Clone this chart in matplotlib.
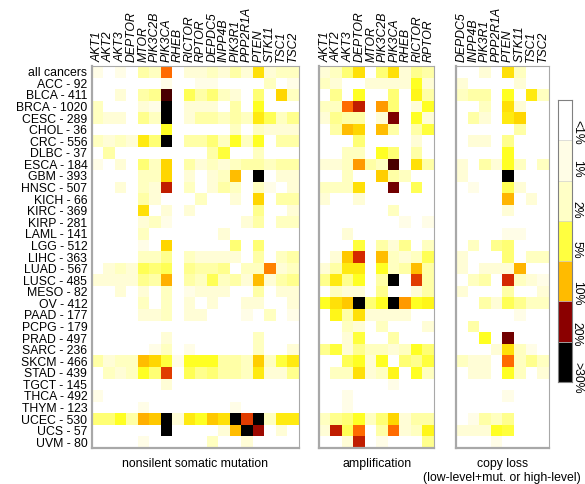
import numpy as np
import matplotlib
matplotlib.use("Agg")
import matplotlib.pyplot as plt
from matplotlib.colors import LinearSegmentedColormap

plt.rcParams['font.family'] = ['Liberation Sans', 'DejaVu Sans']

cancers = ["all cancers", "ACC - 92", "BLCA - 411", "BRCA - 1020", "CESC - 289",
           "CHOL - 36", "CRC - 556", "DLBC - 37", "ESCA - 184", "GBM - 393",
           "HNSC - 507", "KICH - 66", "KIRC - 369", "KIRP - 281", "LAML - 141",
           "LGG - 512", "LIHC - 363", "LUAD - 567", "LUSC - 485", "MESO - 82",
           "OV - 412", "PAAD - 177", "PCPG - 179", "PRAD - 497", "SARC - 236",
           "SKCM - 466", "STAD - 439", "TGCT - 145", "THCA - 492", "THYM - 123",
           "UCEC - 530", "UCS - 57", "UVM - 80"]

mut_genes = ["AKT1", "AKT2", "AKT3", "DEPTOR", "MTOR", "PIK3C2B", "PIK3CA", "RHEB",
             "RICTOR", "RPTOR", "DEPDC5", "INPP4B", "PIK3R1", "PPP2R1A", "PTEN",
             "STK11", "TSC1", "TSC2"]
amp_genes = ["AKT1", "AKT2", "AKT3", "DEPTOR", "MTOR", "PIK3C2B", "PIK3CA", "RHEB",
             "RICTOR", "RPTOR"]
loss_genes = ["DEPDC5", "INPP4B", "PIK3R1", "PPP2R1A", "PTEN", "STK11", "TSC1", "TSC2"]

# altered samples, percent of cohort
mutation_pct = [
    [1, 0, 1, 0, 2.5, 2, 13, 0, 1.5, 1.5, 2, 1.5, 2.5, 1.5, 6.5, 1.5, 2, 2],
    [0, 0, 0, 0, 0, 0, 1, 0, 0, 1, 1, 0, 0, 0, 0, 2, 0, 1],
    [0, 0, 1.5, 0, 2.5, 3, 25, 0, 4, 2.5, 3.5, 2, 1.5, 0, 3.5, 0, 7, 2],
    [2, 0, 0, 0, 1.5, 1, 35, 0, 1.5, 1.5, 1.5, 0, 2.5, 0, 5, 0, 0, 0],
    [2, 1.5, 1.5, 0, 3, 2, 32, 0, 1.5, 2.5, 2.5, 2, 2.5, 2, 6, 4, 2, 3],
    [0, 0, 0, 0, 0, 0, 5, 0, 0, 0, 0, 0, 2, 0, 2, 1.5, 1.5, 1.5],
    [2, 1.5, 2, 1.5, 6, 3.5, 32, 0, 2.5, 2.5, 3.5, 2, 5, 2, 5, 0, 2.5, 2.5],
    [0, 2.5, 0, 0, 0, 0, 0, 0, 0, 0, 2.5, 4.5, 0, 0, 2, 0, 0, 0],
    [1, 0, 1.5, 0, 3.5, 2, 7, 0, 2.5, 1.5, 2, 1.5, 2, 2.5, 2.5, 2, 2.5, 2.5],
    [0, 0, 0, 0, 2, 2, 7, 0, 1.5, 0, 1.5, 2, 9, 0, 35, 0, 1.5, 1.5],
    [0, 0, 1.5, 0, 2, 1.5, 17, 0, 2, 0, 1.5, 2.5, 2, 0, 2, 1, 0, 1.5],
    [0, 0, 0, 0, 2.5, 1.5, 0, 0, 0, 2, 0, 0, 1.5, 0, 7, 0, 2.5, 2.5],
    [0, 0, 0, 0, 6.5, 0, 1.5, 0, 1.5, 0, 0, 0, 0, 0, 3, 0, 0, 1.5],
    [0, 0, 0, 0, 1.5, 2, 1, 0, 0, 0, 0, 0, 0, 1.5, 2.5, 0, 2, 2],
    [0, 0, 0, 0, 2, 0, 0, 0, 0, 0, 0, 1.5, 0, 0, 0, 0, 0, 0],
    [0, 0, 0, 0, 1, 0, 7, 0, 0, 0, 0, 0, 3.5, 0, 3.5, 0, 0, 0],
    [0, 0, 0, 0, 2, 2, 3, 0, 2, 1.5, 1.5, 1.5, 1.5, 0, 2.5, 0, 2, 2.5],
    [0, 1.5, 2, 1.5, 4, 3.5, 4, 0, 3, 2.5, 2.5, 3, 0, 2, 2, 12, 1.5, 2],
    [1.5, 1.5, 1.5, 1.5, 3, 2.5, 10, 0, 2.5, 2, 4, 2, 2.5, 1.5, 9, 1.5, 2.5, 3],
    [0, 0, 1.5, 0, 1.5, 0, 2, 0, 1, 1.5, 1.5, 1.5, 0, 0, 2.5, 0, 1.5, 1.5],
    [0, 0, 0, 0, 2, 0, 2, 0, 1.5, 0, 1.5, 0, 0, 1.5, 1.5, 0, 0, 1.5],
    [0, 0, 0, 0, 1.5, 1.5, 2, 0, 1.5, 1.5, 0, 0, 0, 1, 0, 2, 0, 1],
    [0, 0, 0, 0, 0, 0, 0, 0, 0, 0, 0, 0, 0, 0, 0, 0, 0, 0],
    [0, 0, 0, 0, 0, 0, 1.5, 0, 0, 0, 0, 0, 0, 0, 2, 0, 0, 0],
    [0, 0, 0, 0, 0, 1, 2, 0, 1, 0, 0, 0, 0, 0, 2, 0, 0, 1.5],
    [2.5, 1.5, 2, 2, 9, 7, 4.5, 1, 5, 5, 5, 2.5, 2.5, 2, 7.5, 2, 4.5, 6],
    [0, 2, 1.5, 2, 5, 3.5, 15, 0, 4, 3, 3.5, 2.5, 2.5, 2, 6, 1.5, 1.5, 3],
    [0, 0, 0, 0, 0, 0, 1.5, 0, 0, 0, 0, 0, 0, 0, 0, 0, 0, 0],
    [1, 0, 0, 0, 0, 0, 0, 0, 0, 0, 0, 0, 0, 0, 0, 0, 0, 0],
    [0, 0, 0, 0, 1, 0, 0, 0, 0, 0, 0, 0, 1, 0, 0, 0, 0, 0],
    [3.5, 3.5, 5, 2.5, 10, 8, 35, 1.5, 6, 5, 8, 6.5, 32, 15, 32, 2, 6, 6],
    [0, 0, 0, 0, 0, 0, 32, 0, 0, 0, 0, 1.5, 9, 32, 19, 0, 1.5, 0],
    [0, 0, 0, 0, 1, 0, 0, 0, 0, 0, 2, 0, 0, 1.5, 0, 0, 0, 0],
]

amplification_pct = [
    [1.5, 2, 3.5, 6.5, 0, 3.5, 6.5, 1.5, 3, 2.5],
    [2, 1.5, 0, 0, 1.5, 1.5, 1.5, 1.5, 5, 1.5],
    [0, 3, 0, 5, 0, 0, 3.5, 0, 5.5, 2.5],
    [2, 2, 13, 17, 0, 11, 3.5, 0, 1.5, 5],
    [1.5, 3, 2.5, 2.5, 0, 1.5, 21, 0, 5, 1.5],
    [0, 2.5, 9, 7, 0, 9, 2.5, 0, 2.5, 4.5],
    [0, 0, 0, 3.5, 0, 0, 0, 0, 1.5, 0],
    [0, 0, 2, 2, 0, 5, 3.5, 0, 2.5, 0],
    [1.5, 1.5, 2, 11, 2.5, 2, 25, 0, 6.5, 2.5],
    [0, 0, 2, 0, 0, 7.5, 2.5, 2, 0, 0],
    [2, 2, 2, 6.5, 0, 0, 22, 0, 4, 0],
    [1.5, 0, 0, 1.5, 0, 0, 0, 0, 0, 0],
    [0, 0, 0, 0, 0, 0, 2, 0, 0, 0],
    [0, 0, 0, 0, 0, 0, 0, 1, 0, 1],
    [0, 0, 1.5, 0, 0, 0, 0, 0, 0, 0],
    [0, 0, 0, 4.5, 0, 2.5, 1.5, 3, 0, 2],
    [0, 1.5, 8, 16, 0, 9, 2, 1.5, 2, 4],
    [1.5, 2.5, 6, 6, 0, 5, 2, 2.5, 9, 2.5],
    [3, 6, 3, 5, 0, 2.5, 35, 0, 15, 2.5],
    [0, 2, 1.5, 1.5, 0, 3, 0, 0, 1.5, 2.5],
    [5, 6.5, 8, 35, 3.5, 5, 35, 11, 5, 5.5],
    [0, 5.5, 2.5, 6.5, 1.5, 1.5, 1.5, 1.5, 0, 0],
    [0, 0, 2, 1.5, 0, 2, 0, 0, 0, 1.5],
    [0, 0, 1.5, 4.5, 0, 0, 2.5, 0, 0, 0],
    [3, 4.5, 1.5, 3, 2, 2, 1.5, 2, 5, 3.5],
    [0, 0, 4, 5, 1.5, 5, 0, 3.5, 3, 4.5],
    [0, 2, 2, 6.5, 1.5, 2, 5.5, 0, 5, 2],
    [0, 0, 0, 0, 0, 0, 1, 0, 0, 0],
    [0, 0, 1, 0, 0, 0, 0, 0, 0, 0],
    [0, 0, 1, 0, 0, 0, 0, 0, 0, 0],
    [2, 3, 3.5, 5, 2, 3.5, 7, 1.5, 2.5, 2.5],
    [1.5, 17, 4, 13, 0, 2.5, 13, 1.5, 2, 5.5],
    [0, 0, 1.5, 17, 0, 1, 0, 0, 0, 3],
]

copy_loss_pct = [
    [0, 0, 1.5, 0, 6.5, 2, 0, 0],
    [1.5, 0, 0, 0, 0, 1.5, 0, 0],
    [2, 2.5, 2.5, 0, 5, 0, 6, 2],
    [0, 0, 2, 0, 6.5, 1.5, 0, 0],
    [0, 2.5, 1.5, 0, 6, 7, 0, 0],
    [0, 0, 0, 0, 0, 2.5, 0, 0],
    [0, 1.5, 1.5, 0, 3, 0, 0, 0],
    [0, 0, 0, 0, 5, 0, 0, 0],
    [1.5, 0, 2.5, 1.5, 5, 2, 0, 2],
    [1.5, 0, 0, 0, 35, 0, 0, 0],
    [0, 1, 0, 0, 4, 1.5, 0, 0],
    [0, 0, 0, 0, 9.5, 0, 1.5, 0],
    [0, 0, 0, 0, 1.5, 0, 0, 0],
    [0, 0, 0, 0, 0, 0, 0, 0],
    [0, 0, 0, 0, 1, 1, 0, 0],
    [0, 2, 0, 3, 3.5, 0, 0, 0],
    [1.5, 0, 0, 0, 3.5, 0, 2, 2],
    [1.5, 0, 1.5, 1.5, 1.5, 9.5, 0, 0],
    [0, 2, 2.5, 0, 16, 2, 1.5, 1],
    [1.5, 0, 0, 0, 2.5, 0, 0, 1.5],
    [0, 0, 2.5, 1.5, 4, 3, 2, 2],
    [0, 0, 0, 0, 0, 1, 0, 0],
    [0, 2.5, 0, 0, 0, 0, 0, 0],
    [0, 0, 5, 0, 22, 0, 0, 0],
    [0, 0, 0, 1.5, 6.5, 2, 1, 0],
    [2, 1.5, 1.5, 0, 13, 2, 3, 2],
    [0, 1.5, 1.5, 0, 5, 2, 0, 1.5],
    [0, 0, 0, 0, 0, 0, 0, 0],
    [0, 0, 0, 0, 1, 0, 0, 0],
    [0, 0, 0, 0, 0, 0, 0, 0],
    [0, 1, 2.5, 2, 3, 0, 0, 0],
    [1.5, 1.5, 1.5, 5, 4.5, 0, 0, 0],
    [0, 0, 0, 1, 0, 0, 0, 0],
]

legend_labels = ["<1%", "1%", "2%", "5%", "10%", "20%", ">30%"]
legend_colors = ["#ffffff", "#fffde6", "#ffffc6", "#ffff40", "#ffbb00", "#8b0000", "#000000"]

VMAX = 30.0
heat = LinearSegmentedColormap.from_list("heat", [
    (0 / VMAX, "#ffffff"), (1 / VMAX, "#fffde6"), (2 / VMAX, "#ffffc0"),
    (5 / VMAX, "#ffff20"), (7 / VMAX, "#ffd500"), (10 / VMAX, "#ffb000"),
    (13 / VMAX, "#ff6a00"), (16 / VMAX, "#d42800"), (20 / VMAX, "#8b0000"),
    (25 / VMAX, "#4a0000"), (1.0, "#000000")])

W, H = 585, 484
fig = plt.figure(figsize=(W / 100, H / 100), dpi=100)

def frac(x0, x1, y0, y1):
    return [x0 / W, 1 - y1 / H, (x1 - x0) / W, (y1 - y0) / H]

top, bottom = 66, 448
fs = 8.8
panels = [
    (mutation_pct, mut_genes, 91.5, 298.5, "nonsilent somatic mutation"),
    (amplification_pct, amp_genes, 319.5, 434.5, "amplification"),
    (copy_loss_pct, loss_genes, 456, 548.5, "copy loss\n(low-level+mut. or high-level)"),
]

for i, (vals, genes, x0, x1, title) in enumerate(panels):
    ax = fig.add_axes(frac(x0, x1, top, bottom))
    arr = np.clip(np.array(vals, dtype=float), 0, VMAX)
    ax.imshow(arr, cmap=heat, vmin=0, vmax=VMAX, aspect="auto",
              interpolation="nearest")
    ax.xaxis.tick_top()
    ax.set_xticks(range(len(genes)))
    ax.set_xticklabels(genes, rotation=90, fontsize=fs, style="italic")
    ax.tick_params(axis="x", length=0, pad=3)
    if i == 0:
        ax.set_yticks(range(len(cancers)))
        ax.set_yticklabels(cancers, fontsize=fs)
        ax.tick_params(axis="y", length=0, pad=3)
    else:
        ax.set_yticks([])
    for side, sp in ax.spines.items():
        sp.set_color("#a8a8a8")
        sp.set_linewidth(1.6 if side in ("left", "bottom") else 0.8)
    ax.text(0.5, -0.025, title, transform=ax.transAxes, ha="center", va="top",
            fontsize=fs, linespacing=1.25)

# discrete legend bar
cax = fig.add_axes(frac(558, 572, 100, 382))
n = len(legend_labels)
for k, c in enumerate(legend_colors):
    cax.add_patch(plt.Rectangle((0, k), 1, 1, facecolor=c, edgecolor="#d0d0d0",
                                linewidth=0.4))
    cax.text(1.35, k + 0.5, legend_labels[k], rotation=270, ha="left",
             va="center", fontsize=fs, rotation_mode="anchor")
cax.set_xlim(0, 1)
cax.set_ylim(n, 0)
cax.set_xticks([])
cax.set_yticks([])
for sp in cax.spines.values():
    sp.set_color("#808080")
    sp.set_linewidth(0.8)

fig.savefig("out.png", dpi=100)
